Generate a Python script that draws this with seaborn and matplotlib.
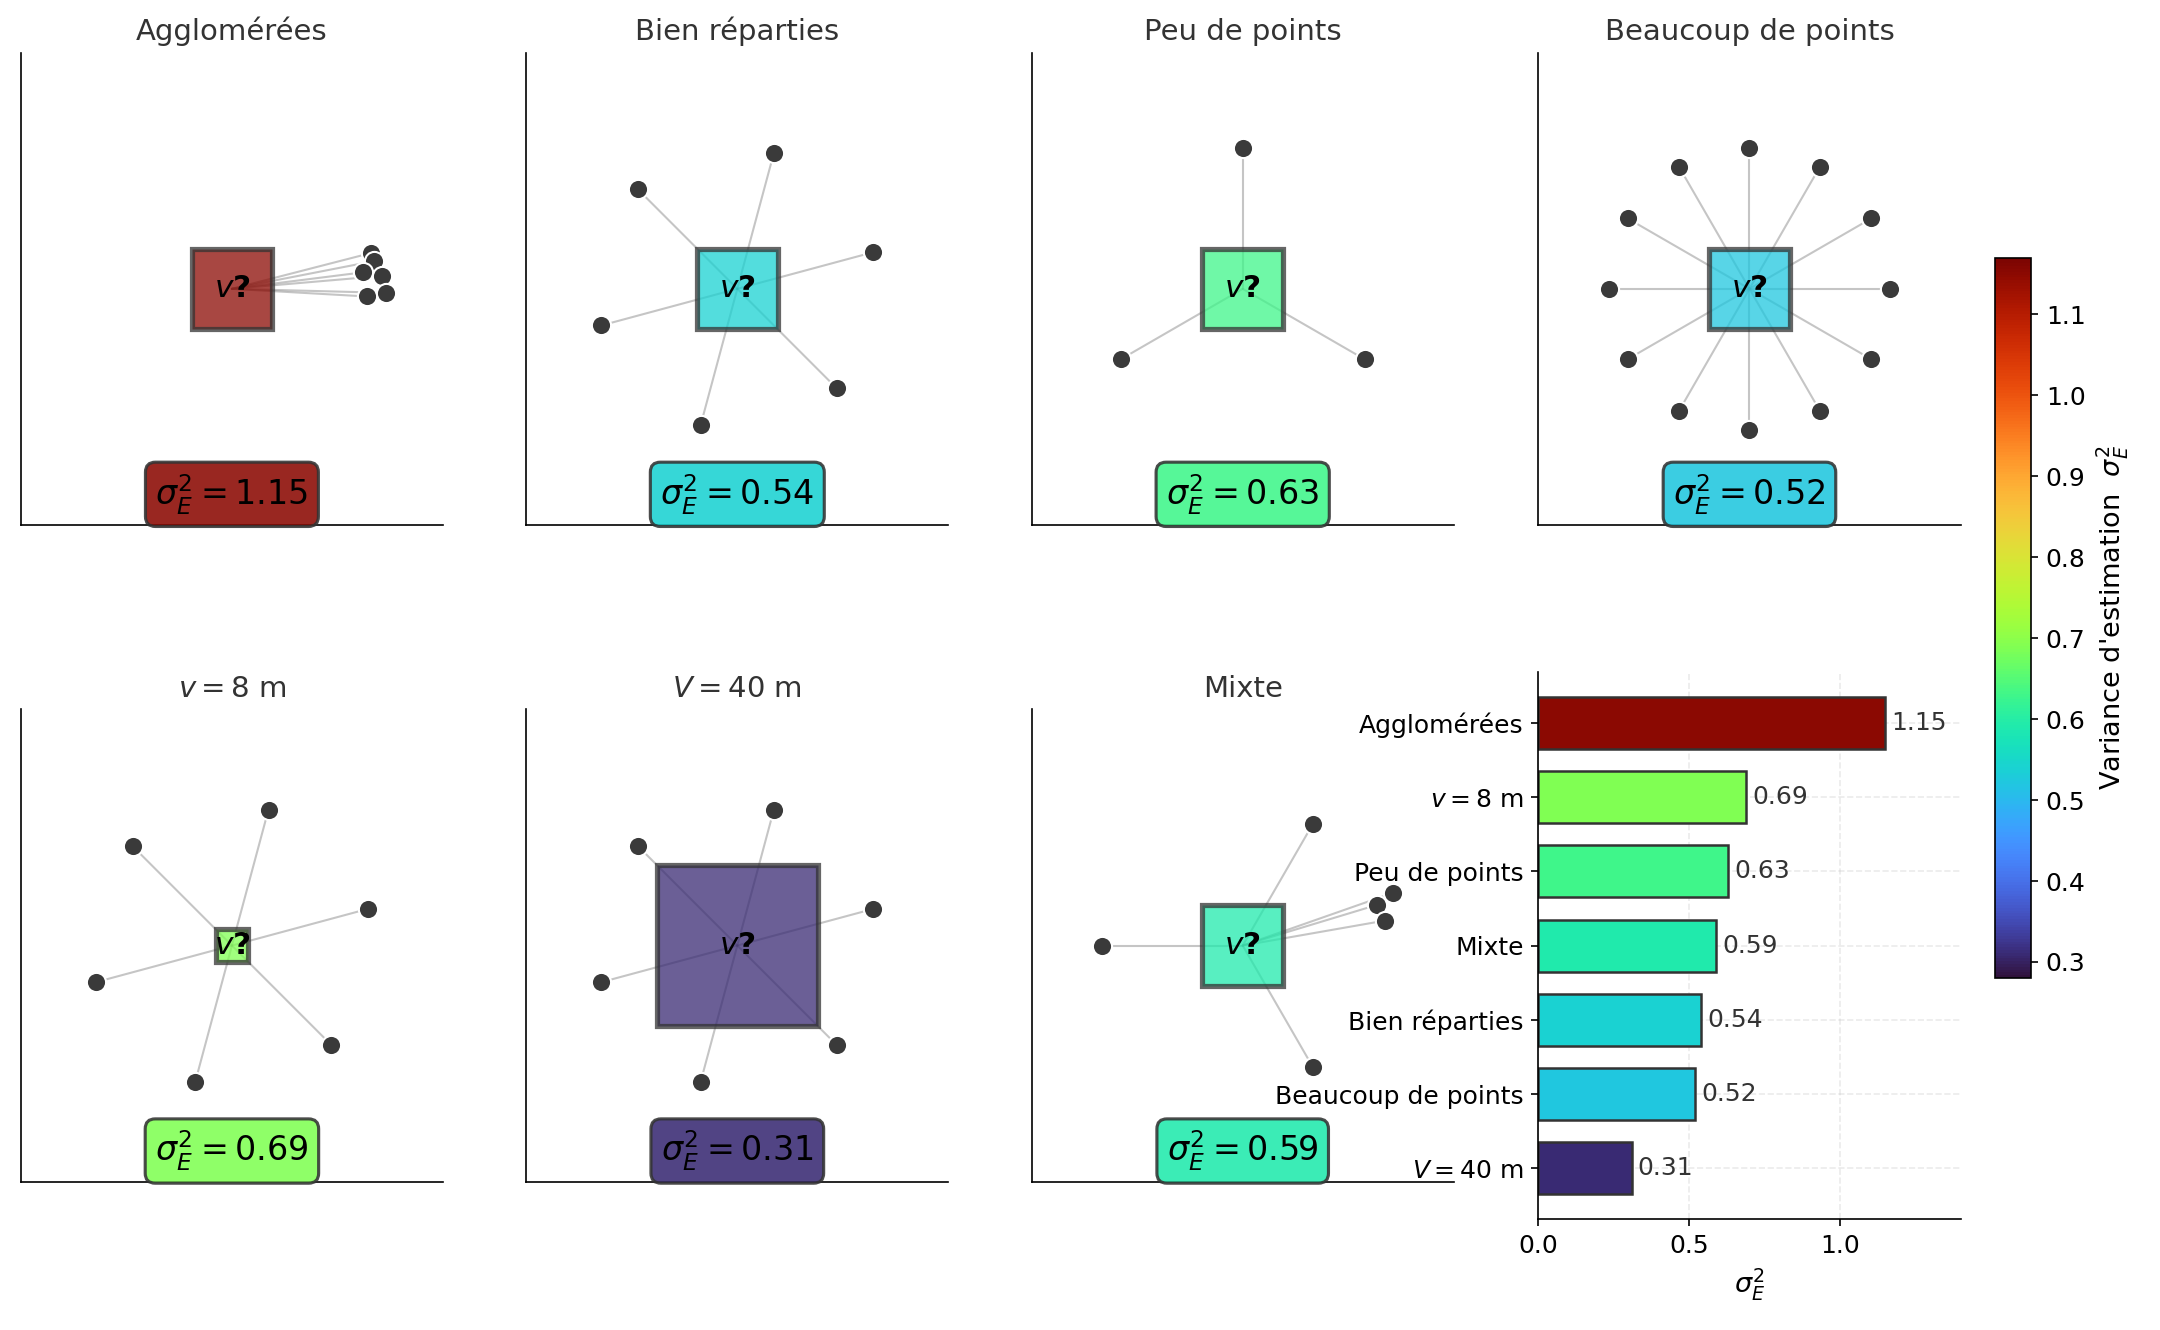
import numpy as np
import matplotlib
matplotlib.use("Agg")
import matplotlib.pyplot as plt
import matplotlib.patches as mpatches
from matplotlib import colors, cm
import seaborn as sns

# scenarios, in panel order
names = ["Agglomérées", "Bien réparties", "Peu de points", "Beaucoup de points",
         "$v = 8$ m", "$V = 40$ m", "Mixte"]
variances = [1.15, 0.54, 0.63, 0.52, 0.69, 0.31, 0.59]
block_sizes = [20, 20, 20, 20, 8, 40, 20]   # side of the block v (m)

# sample locations (m, relative to block centre)
agg_x = [34.6, 35.4, 32.6, 37.3, 33.5, 38.3]
agg_y = [8.9, 6.9, 4.1, 3.2, -1.9, -1.0]
spread_x = [33.8, 9.1, -24.7, -33.8, -9.1, 24.7]
spread_y = [9.1, 33.8, 24.7, -9.1, -33.8, -24.7]
few_x = [0.0, -30.3, 30.3]
few_y = [35.0, -17.5, -17.5]
many_x = [35.0, 30.3, 17.5, 0.0, -17.5, -30.3, -35.0, -30.3, -17.5, 0.0, 17.5, 30.3]
many_y = [0.0, 17.5, 30.3, 35.0, 30.3, 17.5, 0.0, -17.5, -30.3, -35.0, -30.3, -17.5]
mixed_x = [17.5, 37.4, 33.4, 35.4, 17.5, -35.0]
mixed_y = [30.3, 13.1, 10.1, 6.2, -30.3, 0.0]

points = [(agg_x, agg_y), (spread_x, spread_y), (few_x, few_y), (many_x, many_y),
          (spread_x, spread_y), (spread_x, spread_y), (mixed_x, mixed_y)]

bar_xticks = [0.0, 0.5, 1.0]
cbar_ticks = [0.3, 0.4, 0.5, 0.6, 0.7, 0.8, 0.9, 1.0, 1.1]

sns.set_style("ticks", {"axes.edgecolor": "black", "text.color": "black",
                        "xtick.color": "black", "ytick.color": "black",
                        "axes.labelcolor": "black"})

cmap = plt.get_cmap("turbo")
norm = colors.Normalize(vmin=0.28, vmax=1.17)

W, H = 1560, 960  # layout measured on a scaled view
fig = plt.figure(figsize=(14.4, 8.867), dpi=150)

def frac(x0, y0, x1, y1):
    return [x0 / W, 1 - y1 / H, (x1 - x0) / W, (y1 - y0) / H]

lefts = [15, 380, 745, 1111]
panel_pos = [frac(lefts[i], 38, lefts[i] + 305, 379) for i in range(4)]
panel_pos += [frac(lefts[i], 512, lefts[i] + 305, 853) for i in range(3)]

for k, name in enumerate(names):
    ax = fig.add_axes(panel_pos[k])
    col = cmap(norm(variances[k]))
    px, py = points[k]
    for x, y in zip(px, py):
        ax.plot([0, x], [0, y], color="gray", alpha=0.45, lw=1, zorder=1)
    s = block_sizes[k]
    ax.add_patch(mpatches.Rectangle((-s / 2, -s / 2), s, s, facecolor=col,
                                    edgecolor="#333", lw=2.5, alpha=0.75, zorder=2))
    sns.scatterplot(x=px, y=py, ax=ax, color="#3a3a3a", s=85, edgecolor="white",
                    linewidth=1, zorder=3)
    ax.text(0, 0, "$v$?", ha="center", va="center", fontsize=15,
            fontweight="bold", zorder=4)
    ax.text(0.5, 0.065, rf"$\sigma_E^2 = {variances[k]:.2f}$", transform=ax.transAxes,
            ha="center", va="center", fontsize=16, zorder=5,
            bbox=dict(boxstyle="round,pad=0.3", facecolor=col, edgecolor="#333",
                      alpha=0.88, lw=1.5))
    ax.set_xlim(-52.5, 52.5)
    ax.set_ylim(-58.7, 58.7)
    ax.set_xticks([])
    ax.set_yticks([])
    ax.set_title(name, fontsize=14, color="#333")
    sns.despine(ax=ax)

# bar chart of variances
axb = fig.add_axes(frac(1111, 485, 1416, 880))
order = np.argsort(variances)[::-1]
bar_names = [names[i] for i in order]
bar_vals = [variances[i] for i in order]
palette = {n: cmap(norm(v)) for n, v in zip(names, variances)}
sns.barplot(x=bar_vals, y=bar_names, hue=bar_names, palette=palette, orient="h",
            width=0.7, saturation=1, edgecolor="#333", linewidth=1.2,
            legend=False, ax=axb, zorder=2)
for i, v in enumerate(bar_vals):
    axb.text(v + 0.02, i, f"{v:.2f}", va="center", ha="left", fontsize=12, color="#333")
axb.set_ylim(6.685, -0.685)
axb.set_xlim(0, 1.4)
axb.set_xticks(bar_xticks)
axb.grid(True, linestyle="--", alpha=0.4)
axb.set_axisbelow(True)
axb.set_xlabel(r"$\sigma_E^2$", fontsize=13)
axb.set_ylabel("")
axb.tick_params(labelsize=12)
sns.despine(ax=axb)

# colorbar
cax = fig.add_axes(frac(1441, 186, 1467, 706))
sm = cm.ScalarMappable(norm=norm, cmap=cmap)
cb = fig.colorbar(sm, cax=cax, ticks=cbar_ticks)
cb.set_label(r"Variance d'estimation  $\sigma_E^2$", fontsize=13)
cb.ax.tick_params(labelsize=12)

fig.savefig("out.png", dpi=150)
